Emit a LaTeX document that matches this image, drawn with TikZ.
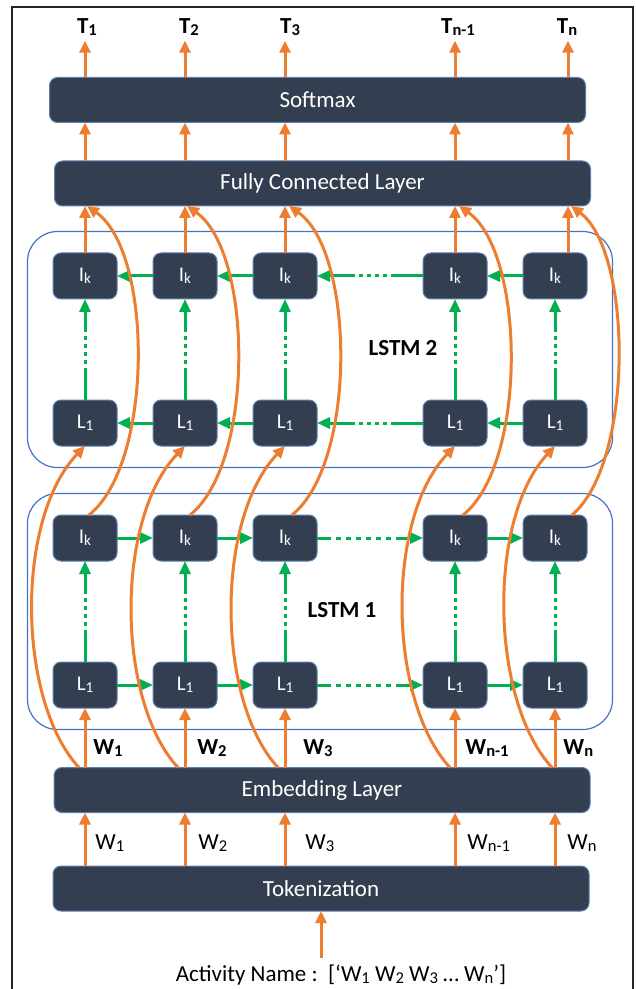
\documentclass[tikz,border=0pt]{standalone}
\usepackage{fontspec}
\setmainfont{Carlito}
\usetikzlibrary{arrows.meta, positioning, fit, calc}
\definecolor{layerfill}{HTML}{333F50}
\definecolor{layeredge}{HTML}{5B80B0}
\definecolor{lstmedge}{HTML}{4472C4}
\definecolor{flow}{HTML}{ED7D31}
\definecolor{recur}{HTML}{00B050}
\newcommand{\idx}[1]{\raisebox{-0.15ex}{\scalebox{0.72}{#1}}}
\tikzset{
  box/.style={rectangle,draw=layeredge,line width=0.5pt,fill=layerfill,rounded corners=4pt,text=white,
    minimum width=268pt,minimum height=22.5pt,outer sep=0pt,font=\fontsize{11.5}{14}\selectfont},
  cell/.style={rectangle,draw=layeredge,line width=0.5pt,fill=layerfill,rounded corners=4pt,text=white,
    minimum width=32pt,minimum height=23pt,inner sep=0pt,outer sep=0pt,font=\fontsize{10.5}{12}\selectfont},
  lstm/.style={draw=lstmedge,line width=0.6pt,rounded corners=15pt,inner xsep=12.75pt,inner ysep=10.75pt},
  lstmlab/.style={font=\bfseries\fontsize{11.5}{14}\selectfont},
  tlab/.style={inner sep=2.5pt,font=\bfseries\fontsize{11.5}{13}\selectfont},
  wlab/.style={anchor=west,inner sep=0pt,font=\fontsize{11.5}{13}\selectfont},
  wbold/.style={anchor=west,inner sep=0pt,font=\bfseries\fontsize{11.5}{13}\selectfont},
  line/.style={flow,line width=1.5pt,-{Triangle[length=6pt,width=5.5pt]}},
  rline/.style={recur,line width=1.5pt,-{Triangle[length=6.5pt,width=5.5pt]}},
  skip/.style={dash pattern=on 16pt off 2pt on 2pt off 2pt on 2pt off 2pt on 2pt off 2pt on 2pt off 2pt on 60pt},
  skipx/.style={dash pattern=on 7pt off 2.5pt on 2.5pt off 2.5pt on 2.5pt off 2.5pt on 2.5pt off 2.5pt on 2.5pt off 2.5pt on 2.5pt off 2.5pt on 2.5pt off 2.5pt on 60pt}
}

\begin{document}
\begin{tikzpicture}[x=0.5pt,y=-0.5pt,node distance=50.5pt and 18pt]
\useasboundingbox (0,0) rectangle (636,989);
\draw[black!85,line width=0.9pt] (12,7) rectangle (633,1000);

% layers
\node[box] (soft) at (317.5,100) {Softmax};
\node[box] (fc) at (322.5,183.5) {Fully Connected Layer};
\node[box] (emb) at (322,790) {Embedding Layer};
\node[box] (tok) at (321,888.5) {Tokenization};

% LSTM 1
\node[cell] (aL1) at (85,685) {L\idx{1}};
\node[cell, right=of aL1] (aL2) {L\idx{1}};
\node[cell, right=of aL2] (aL3) {L\idx{1}};
\node[cell, right=53pt of aL3] (aL4) {L\idx{1}};
\node[cell, right=of aL4] (aL5) {L\idx{1}};
\node[cell, above=of aL1] (aK1) {I\idx{k}};
\node[cell, above=of aL2] (aK2) {I\idx{k}};
\node[cell, above=of aL3] (aK3) {I\idx{k}};
\node[cell, above=of aL4] (aK4) {I\idx{k}};
\node[cell, above=of aL5] (aK5) {I\idx{k}};
\node[lstm, fit=(aK1)(aL5)] (lstm1) {};
\node[lstmlab] (n1) at (342,610) {LSTM 1};

% LSTM 2
\node[cell] (bL1) at (85,423) {L\idx{1}};
\node[cell, right=of bL1] (bL2) {L\idx{1}};
\node[cell, right=of bL2] (bL3) {L\idx{1}};
\node[cell, right=53pt of bL3] (bL4) {L\idx{1}};
\node[cell, right=of bL4] (bL5) {L\idx{1}};
\node[cell, above=of bL1] (bK1) {I\idx{k}};
\node[cell, above=of bL2] (bK2) {I\idx{k}};
\node[cell, above=of bL3] (bK3) {I\idx{k}};
\node[cell, above=of bL4] (bK4) {I\idx{k}};
\node[cell, above=of bL5] (bK5) {I\idx{k}};
\node[lstm, fit=(bK1)(bL5)] (lstm2) {};
\node[lstmlab] (n2) at (403,348) {LSTM 2};

% labels
\node[tlab] (t1) at (87,27) {T\idx{1}};
\node[tlab] (t2) at (189,27) {T\idx{2}};
\node[tlab] (t3) at (290,27) {T\idx{3}};
\node[tlab] (t4) at (458,27) {T\idx{n-1}};
\node[tlab] (t5) at (567,27) {T\idx{n}};
\coordinate (up5) at (568,0);
\node[wbold] (v1) at (93,748) {W\idx{1}};
\node[wbold] (v2) at (197,748) {W\idx{2}};
\node[wbold] (v3) at (303,748) {W\idx{3}};
\node[wbold] (v4) at (465,748) {W\idx{n-1}};
\node[wbold] (v5) at (563,748) {W\idx{n}};
\node[wlab] (w1) at (95,843) {W\idx{1}};
\node[wlab] (w2) at (198,843) {W\idx{2}};
\node[wlab] (w3) at (305,843) {W\idx{3}};
\node[wlab] (w4) at (467,843) {W\idx{n-1}};
\node[wlab] (w5) at (567,843) {W\idx{n}};
\node[font=\fontsize{11.5}{13}\selectfont] (act) at (341,975) {Activity Name :\ \ [‘W\idx{1} W\idx{2} W\idx{3} … W\idx{n}’]};

% recurrent links
\draw[rline] (aL1) -- (aL2);
\draw[rline] (aL2) -- (aL3);
\draw[rline, skipx] (aL3) -- (aL4);
\draw[rline] (aL4) -- (aL5);
\draw[rline] (aK1) -- (aK2);
\draw[rline] (aK2) -- (aK3);
\draw[rline, skipx] (aK3) -- (aK4);
\draw[rline] (aK4) -- (aK5);
\draw[rline] (bL2) -- (bL1);
\draw[rline] (bL3) -- (bL2);
\draw[rline, skip] (bL4) -- (bL3);
\draw[rline] (bL5) -- (bL4);
\draw[rline] (bK2) -- (bK1);
\draw[rline] (bK3) -- (bK2);
\draw[rline, skip] (bK4) -- (bK3);
\draw[rline] (bK5) -- (bK4);
\draw[rline, skip] (aL1) -- (aK1);
\draw[rline, skip] (aL2) -- (aK2);
\draw[rline, skip] (aL3) -- (aK3);
\draw[rline, skip] (aL4) -- (aK4);
\draw[rline, skip] (aL5) -- (aK5);
\draw[rline, skip] (bL1) -- (bK1);
\draw[rline, skip] (bL2) -- (bK2);
\draw[rline, skip] (bL3) -- (bK3);
\draw[rline, skip] (bL4) -- (bK4);
\draw[rline, skip] (bL5) -- (bK5);

% forward flow
\draw[line] (act.north -| tok.south) -- (tok.south);
\draw[line] (tok.north -| aL1) -- (emb.south -| aL1);
\draw[line] (tok.north -| aL2) -- (emb.south -| aL2);
\draw[line] (tok.north -| aL3) -- (emb.south -| aL3);
\draw[line] (tok.north -| aL4) -- (emb.south -| aL4);
\draw[line] (tok.north -| aL5) -- (emb.south -| aL5);
\draw[line] (emb.north -| aL1) -- (aL1);
\draw[line] (emb.north -| aL2) -- (aL2);
\draw[line] (emb.north -| aL3) -- (aL3);
\draw[line] (emb.north -| aL4) -- (aL4);
\draw[line] (emb.north -| aL5) -- (aL5);
\draw[line] (bK1) -- (fc.south -| bK1);
\draw[line] (bK2) -- (fc.south -| bK2);
\draw[line] (bK3) -- (fc.south -| bK3);
\draw[line] (bK4) -- (fc.south -| bK4);
\draw[line] (bK5.north -| up5) -- (fc.south -| up5);
\draw[line] (fc.north -| bK1) -- (soft.south -| bK1);
\draw[line] (fc.north -| bK2) -- (soft.south -| bK2);
\draw[line] (fc.north -| bK3) -- (soft.south -| bK3);
\draw[line] (fc.north -| bK4) -- (soft.south -| bK4);
\draw[line] (fc.north -| up5) -- (soft.south -| up5);
\draw[line] (soft.north -| bK1) -- (t1.south -| bK1);
\draw[line] (soft.north -| bK2) -- (t2.south -| bK2);
\draw[line] (soft.north -| bK3) -- (t3.south -| bK3);
\draw[line] (soft.north -| bK4) -- (t4.south -| bK4);
\draw[line] (soft.north -| up5) -- (t5.south -| up5);

% embedding to LSTM 2
\draw[line] ($(emb.north -| bL1)+(-6,0)$) .. controls +(-62,-67) and +(-70,73) .. (bL1.south);
\draw[line] ($(emb.north -| bL2)+(-7,0)$) .. controls +(-62,-67) and +(-70,73) .. (bL2.south);
\draw[line] ($(emb.north -| bL3)+(-7,0)$) .. controls +(-62,-67) and +(-70,73) .. (bL3.south);
\draw[line] ($(emb.north -| bL4)+(-5,0)$) .. controls +(-62,-67) and +(-70,73) .. (bL4.south);
\draw[line] ($(emb.north -| bL5)+(-3,0)$) .. controls +(-62,-67) and +(-68,73) .. (bL5.south);

% LSTM 1 to fully connected
\draw[line] ($(aK1.north)+(4,0)$) .. controls +(65,-52) and +(66,46) .. ($(fc.south -| aK1)+(2,0)$);
\draw[line] ($(aK2.north)+(5,0)$) .. controls +(65,-52) and +(66,46) .. ($(fc.south -| aK2)+(2,0)$);
\draw[line] ($(aK3.north)+(7,0)$) .. controls +(65,-52) and +(66,46) .. ($(fc.south -| aK3)+(4,0)$);
\draw[line] ($(aK4.north)+(8,0)$) .. controls +(65,-52) and +(66,46) .. ($(fc.south -| aK4)+(4,0)$);
\draw[line] ($(aK5.north)+(17,0)$) .. controls +(62,-52) and +(62,46) .. ($(fc.south -| aK5)+(16,0)$);
\end{tikzpicture}
\end{document}
